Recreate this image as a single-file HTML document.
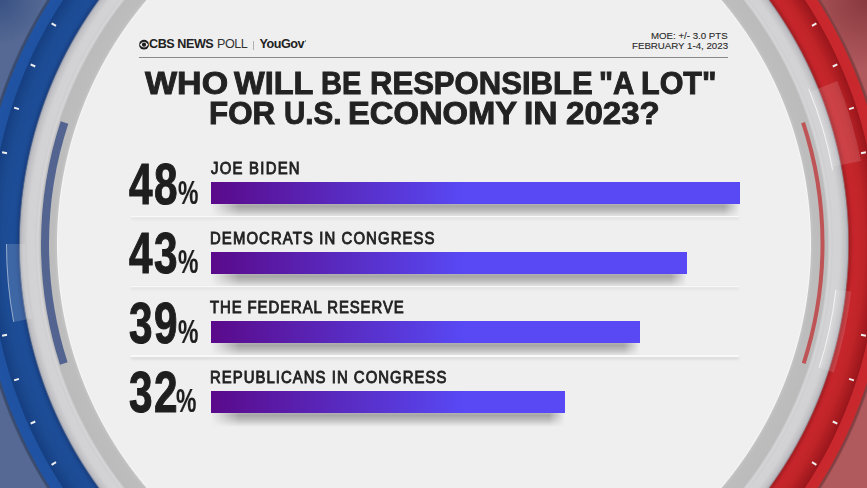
<!DOCTYPE html>
<html><head><meta charset="utf-8">
<style>
html,body{margin:0;padding:0;}
body{width:867px;height:488px;position:relative;overflow:hidden;background:#efefef;font-family:"Liberation Sans",sans-serif;color:#222;}
.abs{position:absolute;white-space:nowrap;}
.hdr{top:36px;font-size:12.6px;line-height:16px;letter-spacing:-0.45px;color:#222;}
.hline{position:absolute;left:139px;top:57px;width:589px;height:1px;background:#8a8a8a;}
.moe{position:absolute;white-space:nowrap;font-size:9.7px;line-height:12px;letter-spacing:0px;color:#2a2a2a;-webkit-text-stroke:0.12px #2a2a2a;}
.title{position:absolute;left:0;width:867px;text-align:center;font-weight:bold;font-size:31px;line-height:30px;color:#222;-webkit-text-stroke:0.9px #222;}
.dig{position:absolute;left:129px;font-weight:bold;font-size:57.5px;line-height:60px;letter-spacing:2px;transform:scaleX(0.735);transform-origin:0 0;color:#1e1e1e;-webkit-text-stroke:1.1px #1e1e1e;white-space:nowrap;}
.pct{position:absolute;font-weight:bold;font-size:34px;line-height:34px;transform:scaleX(0.675);transform-origin:0 0;color:#1e1e1e;-webkit-text-stroke:0.2px #1e1e1e;}
.lab{position:absolute;left:210px;font-weight:normal;font-size:16.2px;line-height:16px;letter-spacing:1.2px;transform:scaleX(0.92);transform-origin:0 0;color:#222;-webkit-text-stroke:0.85px #222;white-space:nowrap;}
.bar{position:absolute;left:211px;height:22px;background:linear-gradient(90deg,#5a0a8a 0px,#5849f5 255px);}
.shadow{position:absolute;left:211px;height:14px;background:linear-gradient(180deg,rgba(0,0,0,0.26) 0px,rgba(0,0,0,0.30) 2.5px,rgba(0,0,0,0.2) 7px,rgba(0,0,0,0.08) 11px,rgba(0,0,0,0) 14px);-webkit-mask-image:linear-gradient(90deg,transparent 0,#000 28px,#000 calc(100% - 16px),transparent 100%);}
.sep{position:absolute;left:131px;width:608px;height:1.5px;background:#f9f9f9;box-shadow:0 2px 3px rgba(0,0,0,0.13);}
.tw{position:absolute;white-space:nowrap;font-weight:bold;font-size:31px;line-height:30px;color:#222;-webkit-text-stroke:0.9px #222;transform-origin:0 0;}
</style></head><body>
<svg width="867" height="488" viewBox="0 0 867 488" style="position:absolute;left:0;top:0">
<defs>
<radialGradient id="gl" gradientUnits="userSpaceOnUse" cx="434" cy="244" r="470.0">
<stop offset="0.00000" stop-color="#efefef" stop-opacity="1"/>
<stop offset="0.79894" stop-color="#efefef" stop-opacity="1"/>
<stop offset="0.80106" stop-color="#f6f6f6" stop-opacity="1"/>
<stop offset="0.80319" stop-color="#c4c4c4" stop-opacity="1"/>
<stop offset="0.80851" stop-color="#bdbdbd" stop-opacity="1"/>
<stop offset="0.83723" stop-color="#bbbbbb" stop-opacity="1"/>
<stop offset="0.83936" stop-color="#c9c9cb" stop-opacity="1"/>
<stop offset="0.84255" stop-color="#d6d6d8" stop-opacity="1"/>
<stop offset="0.84681" stop-color="#cfcfd1" stop-opacity="1"/>
<stop offset="0.85106" stop-color="#d3d3d5" stop-opacity="1"/>
<stop offset="0.86383" stop-color="#d2d2d4" stop-opacity="1"/>
<stop offset="0.87660" stop-color="#c0c0c4" stop-opacity="1"/>
<stop offset="0.88043" stop-color="#a9adb6" stop-opacity="1"/>
<stop offset="0.88191" stop-color="#5d6d8e" stop-opacity="1"/>
<stop offset="0.88404" stop-color="#183f82" stop-opacity="1"/>
<stop offset="0.89149" stop-color="#1c4b94" stop-opacity="1"/>
<stop offset="0.89787" stop-color="#1d4d97" stop-opacity="1"/>
<stop offset="0.91915" stop-color="#1c4b93" stop-opacity="1"/>
<stop offset="0.94362" stop-color="#163f82" stop-opacity="1"/>
<stop offset="0.94574" stop-color="#1f52a1" stop-opacity="1"/>
<stop offset="0.96596" stop-color="#2053a3" stop-opacity="1"/>
<stop offset="0.96915" stop-color="#3a4a6c" stop-opacity="1"/>
<stop offset="0.97234" stop-color="#3e4e70" stop-opacity="1"/>
<stop offset="0.97553" stop-color="#52668f" stop-opacity="0"/>
<stop offset="1.00000" stop-color="#566994" stop-opacity="0"/>
</radialGradient>
<radialGradient id="gr" gradientUnits="userSpaceOnUse" cx="434" cy="244" r="470.0">
<stop offset="0.00000" stop-color="#efefef" stop-opacity="1"/>
<stop offset="0.79894" stop-color="#efefef" stop-opacity="1"/>
<stop offset="0.80106" stop-color="#f6f6f6" stop-opacity="1"/>
<stop offset="0.80319" stop-color="#c4c4c4" stop-opacity="1"/>
<stop offset="0.80851" stop-color="#bdbdbd" stop-opacity="1"/>
<stop offset="0.83723" stop-color="#bbbbbb" stop-opacity="1"/>
<stop offset="0.83936" stop-color="#c9c9cb" stop-opacity="1"/>
<stop offset="0.84255" stop-color="#d6d6d8" stop-opacity="1"/>
<stop offset="0.84681" stop-color="#cfcfd1" stop-opacity="1"/>
<stop offset="0.85106" stop-color="#d3d3d5" stop-opacity="1"/>
<stop offset="0.86383" stop-color="#d2d2d4" stop-opacity="1"/>
<stop offset="0.87660" stop-color="#c0c0c4" stop-opacity="1"/>
<stop offset="0.88043" stop-color="#a9adb6" stop-opacity="1"/>
<stop offset="0.88191" stop-color="#9a6466" stop-opacity="1"/>
<stop offset="0.88404" stop-color="#a51d22" stop-opacity="1"/>
<stop offset="0.89149" stop-color="#c2242a" stop-opacity="1"/>
<stop offset="0.89787" stop-color="#c6262b" stop-opacity="1"/>
<stop offset="0.91489" stop-color="#bf2428" stop-opacity="1"/>
<stop offset="0.94362" stop-color="#9a161b" stop-opacity="1"/>
<stop offset="0.94574" stop-color="#c8282d" stop-opacity="1"/>
<stop offset="0.96596" stop-color="#c9282d" stop-opacity="1"/>
<stop offset="0.96915" stop-color="#7e3f42" stop-opacity="1"/>
<stop offset="0.97234" stop-color="#8a4648" stop-opacity="1"/>
<stop offset="0.97553" stop-color="#ae565a" stop-opacity="0"/>
<stop offset="1.00000" stop-color="#b15a5e" stop-opacity="0"/>
</radialGradient>
</defs>
<rect x="0" y="0" width="434" height="488" fill="#566994"/>
<radialGradient id="ctr" gradientUnits="userSpaceOnUse" cx="867" cy="0" r="70"><stop offset="0" stop-color="#7e3036" stop-opacity="0.8"/><stop offset="1" stop-color="#7e3036" stop-opacity="0"/></radialGradient>
<radialGradient id="ctl" gradientUnits="userSpaceOnUse" cx="0" cy="0" r="45"><stop offset="0" stop-color="#2f4a7e" stop-opacity="0.75"/><stop offset="1" stop-color="#2f4a7e" stop-opacity="0"/></radialGradient>
<linearGradient id="mr" x1="0" y1="0" x2="1" y2="0"><stop offset="0" stop-color="#c56a6c"/><stop offset="0.35" stop-color="#b35c60"/><stop offset="1" stop-color="#b15a5e"/></linearGradient>
<rect x="434" y="0" width="433" height="488" fill="#b15a5e"/>
<rect x="780" y="0" width="87" height="90" fill="url(#ctr)"/>
<rect x="0" y="0" width="60" height="60" fill="url(#ctl)"/>
<rect x="0" y="0" width="434" height="488" fill="url(#gl)"/>
<rect x="434" y="0" width="433" height="488" fill="url(#gr)"/>
<path d="M60.7,121.3 A393,393 0 0 0 60.0,364.8 L67.6,362.3 A385,385 0 0 1 68.3,123.8 Z" fill="#52648f"/>
<path d="M805.0,122.0 A390.5,390.5 0 0 1 805.6,364.0 L801.8,362.8 A386.5,386.5 0 0 0 801.2,123.3 Z" fill="#bf5456"/>
<path d="M6.0,244.0 A428,428 0 0 0 13.2,322.0 L31.8,318.5 A409,409 0 0 1 25.0,244.0 Z" fill="#ffffff" fill-opacity="0.15"/>
<path d="M837.3,81.0 A435,435 0 0 1 861.0,161.0 L831.6,166.7 A405,405 0 0 0 809.5,92.3 Z" fill="#ffffff" fill-opacity="0.13"/>
<path d="M851.3,291.5 A420,420 0 0 1 833.9,372.4 L818.7,367.5 A404,404 0 0 0 835.4,289.7 Z" fill="#ffffff" fill-opacity="0.13"/>
<g stroke="#ffffff" stroke-opacity="0.7" stroke-width="1" fill="none">
<path d="M6.5,244.0 A427.5,427.5 0 0 0 13.7,321.9" stroke-opacity="0.45"/>
<path d="M808.6,88.8 A405.5,405.5 0 0 1 832.7,170.1"/>
<path d="M835.9,289.8 A404.5,404.5 0 0 1 819.1,367.7"/>
</g>
<g stroke="#f0f0f0" stroke-width="2">
<line x1="141.9" y1="-80.4" x2="138.6" y2="-84.1"/>
<line x1="109.6" y1="-48.1" x2="105.9" y2="-51.4"/>
<line x1="80.9" y1="-12.6" x2="76.8" y2="-15.5"/>
<line x1="56.0" y1="25.8" x2="51.6" y2="23.3"/>
<line x1="35.2" y1="66.5" x2="30.7" y2="64.4"/>
<line x1="18.9" y1="109.1" x2="14.1" y2="107.6"/>
<line x1="7.0" y1="153.2" x2="2.1" y2="152.2"/>
<line x1="-0.1" y1="198.4" x2="-5.1" y2="197.9"/>
<line x1="-2.5" y1="244.0" x2="-7.5" y2="244.0"/>
<line x1="-0.1" y1="289.6" x2="-5.1" y2="290.1"/>
<line x1="7.0" y1="334.8" x2="2.1" y2="335.8"/>
<line x1="18.9" y1="378.9" x2="14.1" y2="380.4"/>
<line x1="35.2" y1="421.5" x2="30.7" y2="423.6"/>
<line x1="56.0" y1="462.2" x2="51.6" y2="464.8"/>
<line x1="80.9" y1="500.6" x2="76.8" y2="503.5"/>
<line x1="109.6" y1="536.1" x2="105.9" y2="539.4"/>
<line x1="141.9" y1="568.4" x2="138.6" y2="572.1"/>
<line x1="726.1" y1="-80.4" x2="729.4" y2="-84.1"/>
<line x1="758.4" y1="-48.1" x2="762.1" y2="-51.4"/>
<line x1="787.1" y1="-12.6" x2="791.2" y2="-15.5"/>
<line x1="812.0" y1="25.8" x2="816.4" y2="23.3"/>
<line x1="832.8" y1="66.5" x2="837.3" y2="64.4"/>
<line x1="849.1" y1="109.1" x2="853.9" y2="107.6"/>
<line x1="861.0" y1="153.2" x2="865.9" y2="152.2"/>
<line x1="868.1" y1="198.4" x2="873.1" y2="197.9"/>
<line x1="870.5" y1="244.0" x2="875.5" y2="244.0"/>
<line x1="868.1" y1="289.6" x2="873.1" y2="290.1"/>
<line x1="861.0" y1="334.8" x2="865.9" y2="335.8"/>
<line x1="849.1" y1="378.9" x2="853.9" y2="380.4"/>
<line x1="832.8" y1="421.5" x2="837.3" y2="423.6"/>
<line x1="812.0" y1="462.2" x2="816.4" y2="464.8"/>
<line x1="787.1" y1="500.6" x2="791.2" y2="503.5"/>
<line x1="758.4" y1="536.1" x2="762.1" y2="539.4"/>
<line x1="726.1" y1="568.4" x2="729.4" y2="572.1"/>
</g>
</svg><svg style="position:absolute;left:0;top:0" width="160" height="60"><circle cx="144" cy="44.7" r="4.9" fill="#1e1e1e"/><path d="M139.7,44.7 Q144,38.9 148.3,44.7 Q144,50.5 139.7,44.7Z" fill="#efefef"/><circle cx="144" cy="44.7" r="2.1" fill="#1e1e1e"/></svg>
<div class="abs hdr" style="left:149px"><b>CBS NEWS</b></div>
<div class="abs hdr" style="left:217px;color:#333">POLL</div>
<div class="abs" style="left:253px;top:41px;width:1px;height:9px;background:#b0b0b0"></div>
<div class="abs hdr" style="left:259.5px"><b>YouGov</b></div>
<div class="abs" style="left:304.5px;top:40px;width:1.5px;height:2px;background:#888"></div>
<div class="hline"></div>
<div class="moe" style="left:651px;top:30px">MOE: +/- 3.0 PTS</div>
<div class="moe" style="left:632px;top:40px">FEBRUARY 1-4, 2023</div>
<div class="tw" style="left:144.7px;top:69px;transform:scaleX(1.097)">WHO</div>
<div class="tw" style="left:234.3px;top:69px;transform:scaleX(1.049)">WILL</div>
<div class="tw" style="left:321.2px;top:69px;transform:scaleX(0.937)">BE</div>
<div class="tw" style="left:369.6px;top:69px;transform:scaleX(1.002)">RESPONSIBLE</div>
<div class="tw" style="left:599.4px;top:69px;transform:scaleX(0.952)">&quot;A</div>
<div class="tw" style="left:641.0px;top:69px;transform:scaleX(0.984)">LOT&quot;</div>
<div class="tw" style="left:208.5px;top:99px;transform:scaleX(1.010)">FOR</div>
<div class="tw" style="left:283.5px;top:99px;transform:scaleX(0.953)">U.S.</div>
<div class="tw" style="left:348.4px;top:99px;transform:scaleX(1.056)">ECONOMY</div>
<div class="tw" style="left:524.4px;top:99px;transform:scaleX(1.084)">IN</div>
<div class="tw" style="left:565.9px;top:99px;transform:scaleX(1.067)">2023?</div>

<div class="dig" style="top:153.5px">48</div><div class="pct" style="left:178px;top:175px">%</div>
<div class="lab" style="top:159.5px;left:211px;letter-spacing:1.36px">JOE BIDEN</div>
<div class="shadow" style="top:203.5px;width:529px"></div>
<div class="bar" style="top:182px;width:529px"></div>
<div class="sep" style="top:215.8px"></div>

<div class="dig" style="top:222.5px">43</div><div class="pct" style="left:177.5px;top:244px">%</div>
<div class="lab" style="top:229.5px">DEMOCRATS IN CONGRESS</div>
<div class="shadow" style="top:273.5px;width:476px"></div>
<div class="bar" style="top:251.5px;width:476px"></div>
<div class="sep" style="top:285.5px"></div>

<div class="dig" style="top:292.5px">39</div><div class="pct" style="left:177.5px;top:314px">%</div>
<div class="lab" style="top:298.5px;letter-spacing:1.0px">THE FEDERAL RESERVE</div>
<div class="shadow" style="top:343px;width:428.5px"></div>
<div class="bar" style="top:321px;width:428.5px"></div>
<div class="sep" style="top:355px"></div>

<div class="dig" style="top:362px">32</div><div class="pct" style="left:176px;top:383px">%</div>
<div class="lab" style="top:369px;letter-spacing:1.13px">REPUBLICANS IN CONGRESS</div>
<div class="shadow" style="top:412.5px;width:354px"></div>
<div class="bar" style="top:390.5px;width:354px"></div>
</body></html>
